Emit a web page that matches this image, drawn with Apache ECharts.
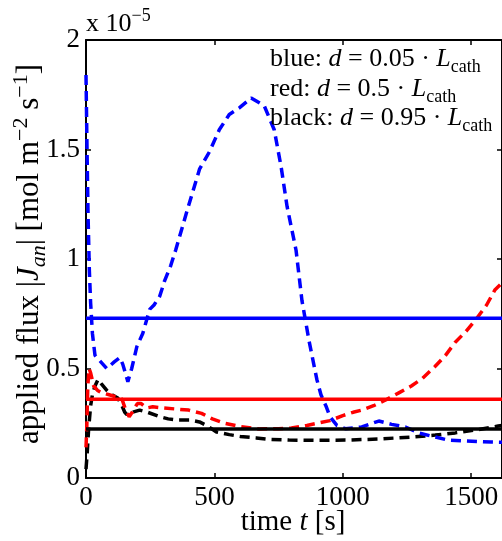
<!DOCTYPE html>
<html>
<head>
<meta charset="utf-8">
<script src="https://cdn.jsdelivr.net/npm/echarts@6/dist/echarts.min.js"></script>
<style>html,body{margin:0;padding:0;background:#fff;}#c{width:502px;height:541px;}</style>
</head>
<body>
<div id="c"></div>
<script>
// values of the flux are in units of 1e-5 mol m^-2 s^-1
const xTicks = [0, 500, 1000, 1500];
const xRange = [0, 1620];
const yTicks = [0, 0.5, 1, 1.5, 2];

const blueT = [0,4,8,13,18,25,35,50,81,110,132,143,163,178,198,221,248,265,287,306,330,349,391,442,481,519,558,597,643,694,733,760,783,818,841,868,899,915,934,950,977,1010,1074,1140,1190,1244,1295,1360,1411,1477,1578,1620];
const blueV = [1.84,1.5,1.2,0.95,0.80,0.66,0.56,0.54,0.50,0.53,0.55,0.52,0.44,0.50,0.60,0.66,0.77,0.79,0.83,0.90,0.97,1.04,1.21,1.41,1.49,1.59,1.66,1.69,1.735,1.70,1.59,1.42,1.24,1.04,0.81,0.63,0.45,0.38,0.33,0.28,0.24,0.225,0.233,0.26,0.245,0.233,0.206,0.187,0.173,0.169,0.164,0.163];

const redT = [0,3,7,12,18,30,45,60,90,120,140,155,168,180,200,215,236,260,300,350,400,450,492,540,600,674,750,800,860,900,950,1000,1040,1074,1120,1167,1220,1267,1310,1360,1400,1438,1480,1516,1560,1593,1620];
const redV = [0.14,0.23,0.42,0.50,0.48,0.42,0.40,0.39,0.38,0.37,0.36,0.31,0.28,0.30,0.34,0.34,0.32,0.325,0.32,0.315,0.31,0.295,0.27,0.25,0.235,0.224,0.225,0.228,0.24,0.25,0.262,0.285,0.30,0.31,0.33,0.356,0.39,0.42,0.455,0.51,0.56,0.62,0.67,0.72,0.79,0.86,0.89];

const blackT = [0,5,10,18,25,35,47,60,81,100,124,140,151,159,180,209,240,287,320,353,403,442,470,508,558,600,663,720,791,900,1012,1140,1267,1360,1438,1516,1605,1620];
const blackV = [0.04,0.12,0.22,0.33,0.38,0.42,0.45,0.43,0.40,0.38,0.365,0.33,0.30,0.29,0.30,0.31,0.30,0.28,0.27,0.265,0.265,0.256,0.24,0.21,0.198,0.19,0.183,0.176,0.173,0.172,0.173,0.178,0.187,0.196,0.206,0.219,0.237,0.24];

// constant (solid) levels
const blueLevel = 0.73;
const redLevel = 0.36;
const blackLevel = 0.224;

const FONT = '"Liberation Serif", "Times New Roman", serif';

function zip(t, v) { return t.map((x, i) => [x, v[i]]); }
function flat(level) { return [[xRange[0], level], [xRange[1], level]]; }

function makeRich(s) {
  const sub = Math.round(s * 0.7);
  return {
    n: { fontFamily: FONT, fontSize: s, color: '#000', lineHeight: Math.round(s * 1.3) },
    i: { fontFamily: FONT, fontSize: s, fontStyle: 'italic', color: '#000', lineHeight: Math.round(s * 1.3) },
    sb: { fontFamily: FONT, fontSize: sub, color: '#000', lineHeight: Math.round(sub * 1.1), verticalAlign: 'bottom' },
    si: { fontFamily: FONT, fontSize: sub, fontStyle: 'italic', color: '#000', lineHeight: Math.round(sub * 1.1), verticalAlign: 'bottom' },
    sp: { fontFamily: FONT, fontSize: sub, color: '#000', lineHeight: sub, verticalAlign: 'top' }
  };
}

function txt(x, y, text, align, size, rot) {
  return {
    type: 'text', x: x, y: y, rotation: rot || 0, z: 100,
    style: { text: text, rich: makeRich(size), align: align || 'left', verticalAlign: 'middle' }
  };
}

const dashed = (color) => ({ color: color, width: 3.5, type: [10, 6] });
const solid = (color) => ({ color: color, width: 3.5, type: 'solid' });

const axisCommon = {
  type: 'value',
  splitLine: { show: false },
  axisLine: { show: true, onZero: false, lineStyle: { color: '#000', width: 2 } },
  axisTick: { show: true, inside: true, length: 5, lineStyle: { color: '#000', width: 1.5 } }
};

const chart = echarts.init(document.getElementById('c'), null, { renderer: 'canvas' });
chart.setOption({
  animation: false,
  backgroundColor: '#fff',
  grid: { left: 86, right: -2, top: 40, bottom: 63, containLabel: false },
  xAxis: [
    Object.assign({}, axisCommon, {
      position: 'bottom', min: xRange[0], max: xRange[1], interval: xTicks[1] - xTicks[0],
      axisLabel: { show: true, showMaxLabel: false, margin: 6, color: '#000', fontFamily: FONT, fontSize: 27,
        formatter: (v) => String(v) }
    }),
    Object.assign({}, axisCommon, {
      position: 'top', min: xRange[0], max: xRange[1], interval: xTicks[1] - xTicks[0],
      axisLabel: { show: false }
    })
  ],
  yAxis: [
    Object.assign({}, axisCommon, {
      position: 'left', min: yTicks[0], max: yTicks[yTicks.length - 1], interval: yTicks[1] - yTicks[0],
      axisLabel: { show: true, margin: 6, color: '#000', fontFamily: FONT, fontSize: 27,
        formatter: (v) => String(v) }
    }),
    Object.assign({}, axisCommon, {
      position: 'right', min: yTicks[0], max: yTicks[yTicks.length - 1], interval: yTicks[1] - yTicks[0],
      axisLabel: { show: false }
    })
  ],
  series: [
    { type: 'line', data: zip(blackT, blackV), symbol: 'none', lineStyle: dashed('#000000'), z: 2 },
    { type: 'line', data: zip(redT, redV), symbol: 'none', lineStyle: dashed('#ff0000'), z: 2 },
    { type: 'line', data: zip(blueT, blueV), symbol: 'none', lineStyle: dashed('#0000ff'), z: 2 },
    { type: 'line', data: flat(blueLevel), symbol: 'none', lineStyle: solid('#0000ff'), z: 3 },
    { type: 'line', data: flat(redLevel), symbol: 'none', lineStyle: solid('#ff0000'), z: 3 },
    { type: 'line', data: flat(blackLevel), symbol: 'none', lineStyle: solid('#000000'), z: 3 }
  ],
  graphic: [
    txt(86, 24, '{n|x 10}{sp|−5}', 'left', 26),
    txt(270, 59, '{n|blue: }{i|d}{n| = 0.05 · }{i|L}{sb|cath}', 'left', 26),
    txt(270, 89, '{n|red: }{i|d}{n| = 0.5 · }{i|L}{sb|cath}', 'left', 26),
    txt(270, 118, '{n|black: }{i|d}{n| = 0.95 · }{i|L}{sb|cath}', 'left', 26),
    txt(293, 522, '{n|time }{i|t}{n| [s]}', 'center', 29),
    txt(30, 254, '{n|applied flux |}{i|J}{si|an}{n|| [mol m}{sp|−2}{n| s}{sp|−1}{n|]}', 'center', 31, Math.PI / 2)
  ]
});
</script>
</body>
</html>
